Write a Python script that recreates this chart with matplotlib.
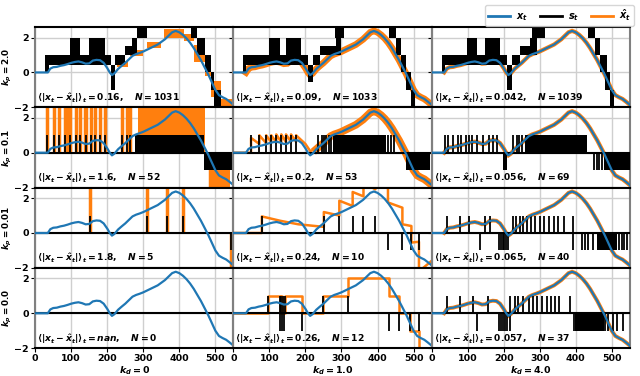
import matplotlib.pyplot as plt
import numpy as np

plt.rcParams['font.weight'] = 'bold'
plt.rcParams['axes.labelweight'] = 'bold'
plt.rcParams['mathtext.fontset'] = 'custom'
plt.rcParams['mathtext.it'] = 'DejaVu Sans:italic:bold'
plt.rcParams['mathtext.rm'] = 'DejaVu Sans:bold'
plt.rcParams['mathtext.bf'] = 'DejaVu Sans:bold'

BLUE = '#1f77b4'
ORANGE = '#ff7f0e'

# signal x_t
T_KEY = [0, 35, 42, 50, 60, 70, 80, 90, 100, 110, 120, 130, 140, 150, 160, 170, 180,
         190, 200, 207, 213, 220, 230, 240, 250, 260, 270, 280, 290, 300, 310, 320,
         330, 340, 350, 360, 370, 380, 390, 400, 410, 420, 430, 440, 450, 460, 470,
         480, 490, 500, 510, 520, 530, 540, 550]
X_KEY = [0, 0, 0.22, 0.3, 0.32, 0.38, 0.42, 0.48, 0.55, 0.6, 0.63, 0.58, 0.5, 0.52,
         0.68, 0.72, 0.7, 0.55, 0.25, 0.0, -0.15, -0.05, 0.2, 0.38, 0.55, 0.75, 0.95,
         1.05, 1.12, 1.2, 1.3, 1.4, 1.5, 1.6, 1.75, 1.9, 2.1, 2.3, 2.38, 2.3, 2.15,
         1.95, 1.7, 1.4, 1.05, 0.7, 0.3, -0.1, -0.55, -1.0, -1.3, -1.42, -1.52, -1.68,
         -1.85]

KP = [2.0, 0.1, 0.01, 0.0]
KD = ['0', '1.0', '4.0']
ERR = [['0.16', '0.09', '0.042'],
       ['1.6', '0.2', '0.056'],
       ['1.8', '0.24', '0.065'],
       ['nan', '0.26', '0.057']]
N_SPIKES = [[1031, 1033, 1039],
            [52, 53, 69],
            [5, 10, 40],
            [0, 12, 37]]

# dense stretches of s_t: (t0, t1, low, high)
S_BANDS = {
    (0, 0): [(28, 38, 0, 1), (38, 97, 0.45, 1), (97, 125, 0.45, 2), (125, 148, 0.45, 1),
             (148, 195, 0.45, 2), (195, 209, 0.45, 1), (209, 222, -1, 0.45),
             (222, 250, 0.45, 1), (250, 270, 1, 1.5), (270, 283, 1, 2), (283, 311, 2, 2.6),
             (432, 450, 2, 2.6), (450, 470, 1, 2), (470, 487, 0, 1), (487, 497, -1, 0),
             (497, 515, -2, -1)],
    (0, 1): [(26, 35, 0, 1), (35, 100, 0.45, 1), (100, 128, 0.45, 2), (128, 146, 0.45, 1),
             (146, 188, 0.45, 2), (188, 207, 0.45, 1), (207, 220, -0.55, 0.45),
             (220, 240, 0.45, 1), (240, 285, 1, 1.5), (285, 300, 1, 2), (281, 308, 2, 2.6),
             (433, 452, 2, 2.6), (452, 466, 1, 2), (466, 480, 0, 1), (480, 493, -1, 0),
             (493, 503, -2, -1)],
    (0, 2): [(28, 37, 0, 1), (37, 97, 0.45, 1), (97, 125, 0.45, 2), (125, 148, 0.45, 1),
             (148, 190, 0.45, 2), (190, 208, 0.45, 1), (208, 222, -1, 0.45),
             (222, 245, 0.45, 1), (245, 273, 1, 1.5), (273, 292, 1, 2), (278, 315, 2, 2.6),
             (435, 453, 2, 2.6), (453, 468, 1, 2), (468, 486, 0, 1), (482, 496, -1, 0),
             (496, 505, -2, -1)],
    (1, 0): [(276, 469, 0, 1), (469, 550, -1, 0)],
    (1, 1): [(276, 424, 0, 1), (480, 545, -1, 0)],
    (1, 2): [(197, 210, -1, 0), (259, 430, 0, 1), (478, 550, -1, 0)],
    (2, 0): [],
    (2, 1): [],
    (2, 2): [(458, 514, -1, 0)],
    (3, 0): [],
    (3, 1): [],
    (3, 2): [(398, 478, -1, 0)],
}

# single spikes of s_t: (t, height)
S_SPIKES = {
    (0, 0): [], (0, 1): [], (0, 2): [],
    (1, 0): [(32, 1), (51, 1), (65, 1), (84, 1), (97, 1), (114, 1), (125, 1), (142, 1),
             (155, 1), (167, 1), (181, 1), (195, 1), (241, 1), (255, 1), (264, 1)],
    (1, 1): [(49, 1), (72, 1), (91, 1), (105, 1), (119, 1), (133, 1), (146, 1), (160, 1),
             (174, 1), (236, 1), (245, 1), (252, 1), (258, 1), (265, 1), (270, 1),
             (430, 1), (438, 1), (446, 1)],
    (1, 2): [(37, 1), (46, 1), (60, 1), (74, 1), (83, 1), (95, 1), (105, 1), (111, 1),
             (125, 1), (143, 1), (160, 1), (171, 1), (181, 1), (227, 1), (236, 1),
             (244, 1), (252, 1), (452, -1), (460, -1), (466, -1), (472, -1)],
    (2, 0): [(151, 1), (311, 1), (367, 1), (410, 1), (543, -1)],
    (2, 1): [(79, 1), (251, 1), (294, 1), (331, 1), (361, 1), (394, 1),
             (429, -1), (469, -1), (494, -1), (515, -1)],
    (2, 2): [(43, 1), (79, 1), (105, 1), (147, 1), (163, 1), (225, 1), (235, 1), (245, 1),
             (255, 1), (265, 1), (275, 1), (288, 1), (300, 1), (312, 1), (325, 1),
             (340, 1), (352, 1), (368, 1), (392, 1),
             (134, -1), (187, -1), (192, -1), (197, -1), (201, -1), (207, -1), (213, -1),
             (393, -1), (417, -1), (426, -1), (435, -1), (447, -1), (520, -1), (528, -1),
             (535, -1), (542, -1)],
    (3, 0): [],
    (3, 1): [(97, 1), (128, 1), (133, 1), (137, 1), (142, 1), (248, 1), (318, 1),
             (130, -1), (135, -1), (140, -1), (191, -1), (431, -1), (459, -1),
             (489, -1), (515, -1)],
    (3, 2): [(43, 1), (79, 1), (114, 1), (157, 1), (218, 1), (232, 1), (241, 1),
             (255, 1), (269, 1), (282, 1), (293, 1), (306, 1), (319, 1), (331, 1),
             (343, 1), (355, 1), (384, 1),
             (125, -1), (188, -1), (192, -1), (197, -1), (204, -1), (210, -1), (218, -1),
             (394, -1), (481, -1), (491, -1), (503, -1), (514, -1), (532, -1)],
}

# dense stretches of x_hat: (t0, t1, low, high)
H_BANDS = {
    (0, 0): [(93, 125, 0.6, 0.9), (148, 190, 0.6, 0.9), (228, 258, 0.3, 0.65),
             (262, 300, 0.95, 1.3), (311, 348, 1.4, 1.75), (357, 413, 2.0, 2.5),
             (413, 440, 1.8, 2.2), (440, 470, 0.6, 1.6), (470, 487, -0.2, 0.5),
             (487, 515, -1.4, -0.5), (515, 550, -2.0, -1.5)],
    (1, 0): [(285, 470, 0, 2.6), (481, 540, -2, -1)],
}

# thin vertical strokes of x_hat: (t, low, high)
H_LINES = {
    (1, 0): [(32, 0, 2.6), (51, 0, 2.6), (65, 0, 2.6), (84, 0, 2.6), (90, 0, 2.6),
             (97, 0, 2.6), (114, 0, 2.6), (125, 0, 2.6), (137, 0, 2.6), (142, 0, 2.6),
             (155, 0, 2.6), (167, 0, 2.6), (181, 0, 2.6), (195, 0, 2.6), (241, 0, 2.6),
             (255, 0, 2.6), (264, 0, 2.6), (484, -2, 0), (490, -2, 0), (495, -2, 0)],
    (2, 0): [(151, 0, 2.6), (311, 0, 2.6), (367, 0, 2.6), (410, 0, 2.6), (543, -2, 0)],
}

# x_hat as a path of (t, value) points
H_PATH = {
    (1, 1): [(0, 0), (49, 0), (49, 0.85), (72, 0.5), (72, 1.0), (91, 0.55), (91, 1.0),
             (105, 0.6), (105, 1.0), (119, 0.6), (119, 1.05), (133, 0.6), (133, 1.05),
             (146, 0.6), (146, 1.05), (160, 0.62), (160, 1.05), (174, 0.62), (174, 1.0),
             (200, 0.5), (213, 0.1), (230, 0.2)],
    (2, 1): [(0, 0), (79, 0), (79, 0.95), (130, 0.7), (180, 0.5), (251, 0.35),
             (251, 1.2), (294, 1.0), (294, 1.85), (331, 1.55), (331, 2.35), (361, 2.1),
             (361, 2.9), (394, 2.5), (394, 3.3), (429, 2.65), (429, 1.75), (469, 1.45),
             (469, 0.5), (494, 0.4), (494, -0.55), (515, -0.5), (515, -2.2), (550, -1.6)],
    (3, 1): [(0, 0), (97, 0), (97, 1), (130, 1), (130, 0), (133, 0), (133, 1), (135, 1),
             (135, 0), (142, 0), (142, 1), (191, 1), (191, 0), (248, 0), (248, 1),
             (318, 1), (318, 2), (431, 2), (431, 1), (459, 1), (459, 0), (489, 0),
             (489, -1), (515, -1), (515, -2), (550, -2)],
}

# x_hat following x_t closely: (start t, line width)
H_TRACK = {
    (0, 1): (30, 4.8), (0, 2): (30, 3.0),
    (1, 1): (225, 5.5), (1, 2): (30, 3.0),
    (2, 2): (30, 2.8), (3, 2): (30, 2.8),
}

fig, axes = plt.subplots(4, 3, figsize=(6.4, 3.76), dpi=100, sharex=True, sharey=True)
fig.subplots_adjust(left=0.055, right=0.984, top=0.928, bottom=0.074, wspace=0, hspace=0)

t_key = np.array(T_KEY)
x_key = np.array(X_KEY)

for r in range(4):
    for c in range(3):
        ax = axes[r, c]
        key = (r, c)
        ax.grid(True, color='#cfcfcf', lw=1.0)
        ax.set_axisbelow(True)

        # reconstruction x_hat
        for t0, t1, lo, hi in H_BANDS.get(key, []):
            ax.fill_between([t0, t1], lo, hi, color=ORANGE, lw=0, zorder=2)
        for t, lo, hi in H_LINES.get(key, []):
            ax.vlines(t, lo, hi, color=ORANGE, lw=2.5, zorder=2)
        if key in H_PATH:
            pts = np.array(H_PATH[key])
            ax.plot(pts[:, 0], pts[:, 1], color=ORANGE, lw=1.8, zorder=2)
        if key in H_TRACK:
            start, lw = H_TRACK[key]
            m = t_key >= start
            ax.plot(t_key[m], x_key[m], color=ORANGE, lw=lw, zorder=2,
                    solid_joinstyle='miter')

        # spike signal s_t
        if r > 0:
            ax.axhline(0, color='k', lw=1.5, zorder=3)
        for t0, t1, lo, hi in S_BANDS[key]:
            ax.fill_between([t0, t1], lo, hi, color='k', lw=0, zorder=3)
        for t, h in S_SPIKES[key]:
            ax.vlines(t, 0, h, color='k', lw=1.3, zorder=3)

        # signal x_t
        ax.plot(t_key, x_key, color=BLUE, lw=1.6, zorder=4)

        ax.text(0.01, 0.03,
                r'$\langle|x_t - \hat{x}_t|\rangle_t = %s,\quad N = %d$'
                % (ERR[r][c], N_SPIKES[r][c]),
                transform=ax.transAxes, fontsize=6.6, ha='left', va='bottom', zorder=5)

        ax.set_xlim(0, 550)
        ax.set_ylim(-2, 2.6)
        ax.set_xticks([0, 100, 200, 300, 400, 500])
        ax.set_yticks([-2, 0, 2])
        ax.tick_params(labelsize=6.8, length=3, pad=1.5)
        for s in ['left', 'right']:
            ax.spines[s].set_color('#808080')
            ax.spines[s].set_linewidth(1.5)
        for s in ['top', 'bottom']:
            ax.spines[s].set_color('k')
            ax.spines[s].set_linewidth(1.5)

        if c == 0:
            ax.set_ylabel(r'$k_p = %s$' % KP[r], fontsize=6.3, labelpad=0.5)
        if r == 3:
            ax.set_xlabel(r'$k_d = %s$' % KD[c], fontsize=6.8, labelpad=1)

handles = [plt.Line2D([], [], color=BLUE, lw=2),
           plt.Line2D([], [], color='k', lw=2),
           plt.Line2D([], [], color=ORANGE, lw=2)]
fig.legend(handles, [r'$x_t$', r'$s_t$', r'$\hat{x}_t$'], loc='upper right',
           bbox_to_anchor=(0.998, 1.0), ncol=3, fontsize=7, handlelength=2.2,
           columnspacing=1.3, borderpad=0.3, handletextpad=0.6)

fig.savefig('out.png', dpi=100)
